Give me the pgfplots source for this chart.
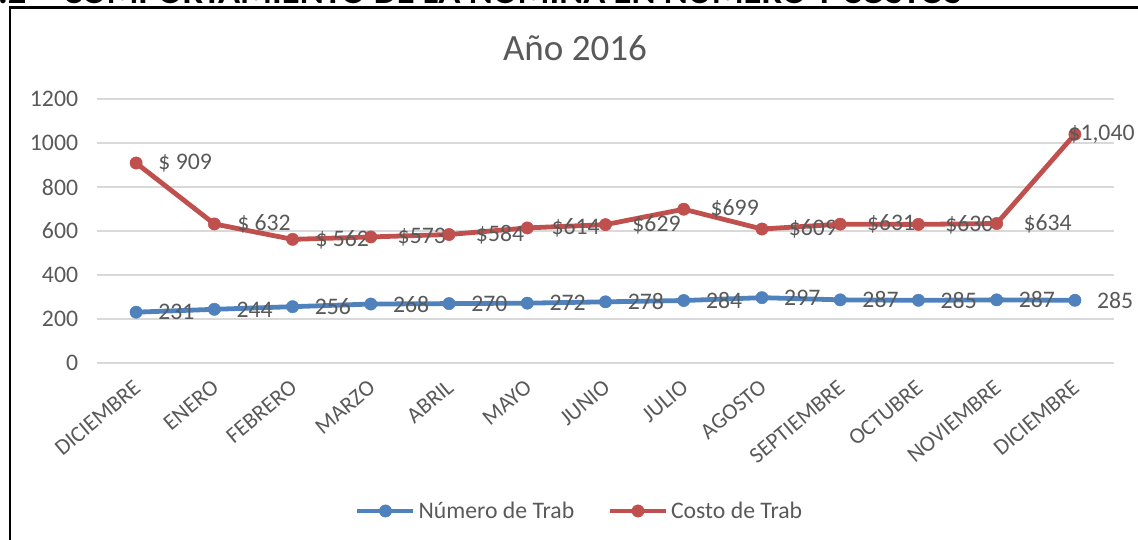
\documentclass[border=0pt]{standalone}
\usepackage{pgfplots}
\pgfplotsset{compat=1.18}
\usepackage{pgfplotstable}
\usepackage{fontspec}
\setmainfont{Carlito}
\definecolor{txtgray}{HTML}{595959}
\definecolor{gridgray}{HTML}{D9D9D9}
\definecolor{serblue}{HTML}{4F81BD}
\definecolor{serred}{HTML}{C0504D}

\pgfplotstableread{
x y lbl dx
0 231 231 16.5
1 244 244 16.5
2 256 256 16.5
3 268 268 16.5
4 270 270 16.5
5 272 272 16.5
6 278 278 16.5
7 284 284 16.5
8 297 297 16.5
9 287 287 16.5
10 285 285 16.5
11 287 287 16.5
12 285 285 16.5
}\numtrab

\pgfplotstableread{
x y lbl dx
0 909 \$~909 16.5
1 632 \$~632 17
2 562 \$~562 17
3 573 \$573 20
4 584 \$584 20
5 614 \$614 18
6 629 \$629 20
7 699 \$699 20
8 609 \$609 20
9 631 \$631 20
10 630 \$630 20
11 634 \$634 20
12 1040 \$1,040 -5
}\costtrab

\begin{document}
\begin{tikzpicture}
\useasboundingbox (0,0) rectangle (853.5pt,404.25pt);
\clip (0,0) rectangle (853.5pt,404.25pt);
% page heading (cut off at top)
\node[anchor=base east, inner sep=0pt, font=\fontsize{27.4}{30}\selectfont\bfseries] at (721.5pt,401.6pt)
  {2.2\quad COMPORTAMIENTO DE LA NÓMINA EN NÚMERO Y COSTOS};
% frame
\draw[line width=2pt] (7.5pt,-10pt) rectangle (870pt,398.5pt);
% chart title
\node[font=\fontsize{27.8}{30}\selectfont, text=txtgray] at (431.25pt,368.25pt) {Año 2016};
\begin{axis}[
  at={(72.75pt,132pt)}, anchor=south west,
  scale only axis, width=762.75pt, height=198pt,
  xmin=-0.5, xmax=12.5, ymin=0, ymax=1200,
  ytick={0,200,...,1200},
  xtick={0,...,12},
  xticklabels={DICIEMBRE,ENERO,FEBRERO,MARZO,ABRIL,MAYO,JUNIO,JULIO,AGOSTO,SEPTIEMBRE,OCTUBRE,NOVIEMBRE,DICIEMBRE},
  axis line style={draw=none},
  major tick length=0pt,
  ymajorgrids, grid style={gridgray, line width=1pt},
  /pgf/number format/assume math mode=true,
  /pgf/number format/1000 sep={},
  ticklabel style={font=\fontsize{17.8}{20}\selectfont, text=txtgray},
  yticklabel style={anchor=east, inner sep=0pt, xshift=-14pt},
  xticklabel style={font=\fontsize{17}{19}\selectfont, xshift=1pt, yshift=-16pt, rotate=40, anchor=east, inner sep=0pt},
  legend style={at={(0.4749,-0.5606)}, anchor=center, draw=none, fill=none,
    font=\fontsize{17.8}{20}\selectfont, text=txtgray, legend columns=2,
    /tikz/every even column/.append style={column sep=23pt},
    inner sep=0pt},
  legend cell align=left,
  legend image code/.code={
    \draw[#1, mark repeat=2, mark phase=2] plot coordinates {(0pt,0pt) (21pt,0pt) (42pt,0pt)};
  },
  nodes near coords,
  point meta=explicit symbolic,
  every node near coord/.append style={font=\fontsize{17.8}{20}\selectfont, text=txtgray, anchor=west, inner sep=0pt, xshift=\dx pt},
  visualization depends on={\thisrow{dx} \as \dx},
  clip=false,
]
\addplot[serblue, line width=3.6pt, mark=*, mark size=4.6pt, mark options={solid, line width=0.4pt, fill=serblue}]
  table[x=x, y=y, meta=lbl] {\numtrab};
\addlegendentry{Número de Trab}
\addplot[serred, line width=3.6pt, mark=*, mark size=4.6pt, mark options={solid, line width=0.4pt, fill=serred}]
  table[x=x, y=y, meta=lbl] {\costtrab};
\addlegendentry{Costo de Trab}
\end{axis}
\end{tikzpicture}
\end{document}
